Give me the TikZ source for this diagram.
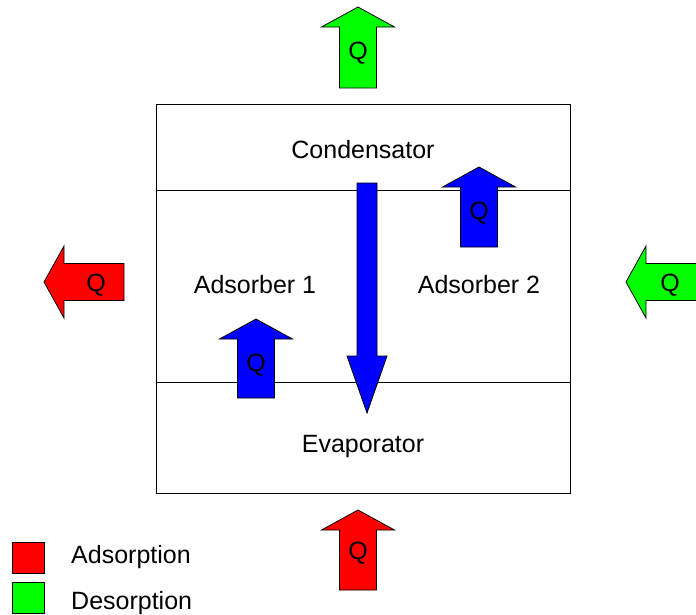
\documentclass[tikz,border=0pt]{standalone}
\usepackage{fontspec}
\setmainfont{Liberation Sans}
\definecolor{qred}{RGB}{255,0,0}
\definecolor{qgreen}{RGB}{0,255,0}
\definecolor{qblue}{RGB}{0,0,255}
\newcommand\uparr[4]{% x, tip y, bottom y, colour
\filldraw[arrowline, fill=#4] (#1,#2) -- (#1+36.5,#2+20) -- (#1+18.5,#2+20) -- (#1+18.5,#3) -- (#1-18.5,#3) -- (#1-18.5,#2+20) -- (#1-36.5,#2+20) -- cycle;}
\newcommand\leftarr[4]{% tip x, y, right x, colour
\filldraw[arrowline, fill=#4] (#1,#2) -- (#1+20,#2-36) -- (#1+20,#2-18.5) -- (#3,#2-18.5) -- (#3,#2+18.5) -- (#1+20,#2+18.5) -- (#1+20,#2+36) -- cycle;}
\begin{document}
\begin{tikzpicture}[x=1pt,y=-1pt,
  arrowline/.style={draw=black, line width=0.8pt, line join=miter},
  boxline/.style={draw=black, line width=0.8pt},
  lbl/.style={font=\fontsize{25}{30}\selectfont, inner sep=0pt},
  qlbl/.style={font=\fontsize{25}{30}\selectfont, inner sep=0pt}]
\useasboundingbox (0,0) rectangle (696,614);
% main box
\draw[boxline] (156,104) rectangle (570,493);
\draw[boxline] (156,190) -- (570,190);
\draw[boxline] (156,382) -- (570,382);
% outer arrows
\uparr{358}{7}{88}{qgreen}
\uparr{358}{510}{590}{qred}
\leftarr{44}{282}{124}{qred}
\leftarr{626}{282}{706}{qgreen}
% inner arrows
\uparr{479}{167}{247}{qblue}
\uparr{256}{319}{398}{qblue}
\filldraw[arrowline, fill=qblue] (357,183) -- (377,183) -- (377,356) -- (387,356) -- (367,413) -- (347,356) -- (357,356) -- cycle;
% texts
\node[lbl] (cond) at (363,150) {Condensator};
\node[lbl] (ads1) at (255,285) {Adsorber 1};
\node[lbl] (ads2) at (479,285) {Adsorber 2};
\node[lbl] (evap) at (363,446) {Evaporator};
\node[qlbl] (qt) at (358,53) {Q};
\node[qlbl] (qb) at (358,553) {Q};
\node[qlbl] (ql) at (96,285) {Q};
\node[qlbl] (qr) at (670,285) {Q};
\node[qlbl] (qa2) at (479,213) {Q};
\node[qlbl] (qa1) at (256,365) {Q};
% legend
\filldraw[boxline, fill=qred] (12,542) rectangle (44,573);
\filldraw[boxline, fill=qgreen] (12,582) rectangle (44,613);
\node[lbl, anchor=west] (la) at (71,557) {Adsorption};
\node[lbl, anchor=west] (ld) at (71,603) {Desorption};
\end{tikzpicture}
\end{document}
